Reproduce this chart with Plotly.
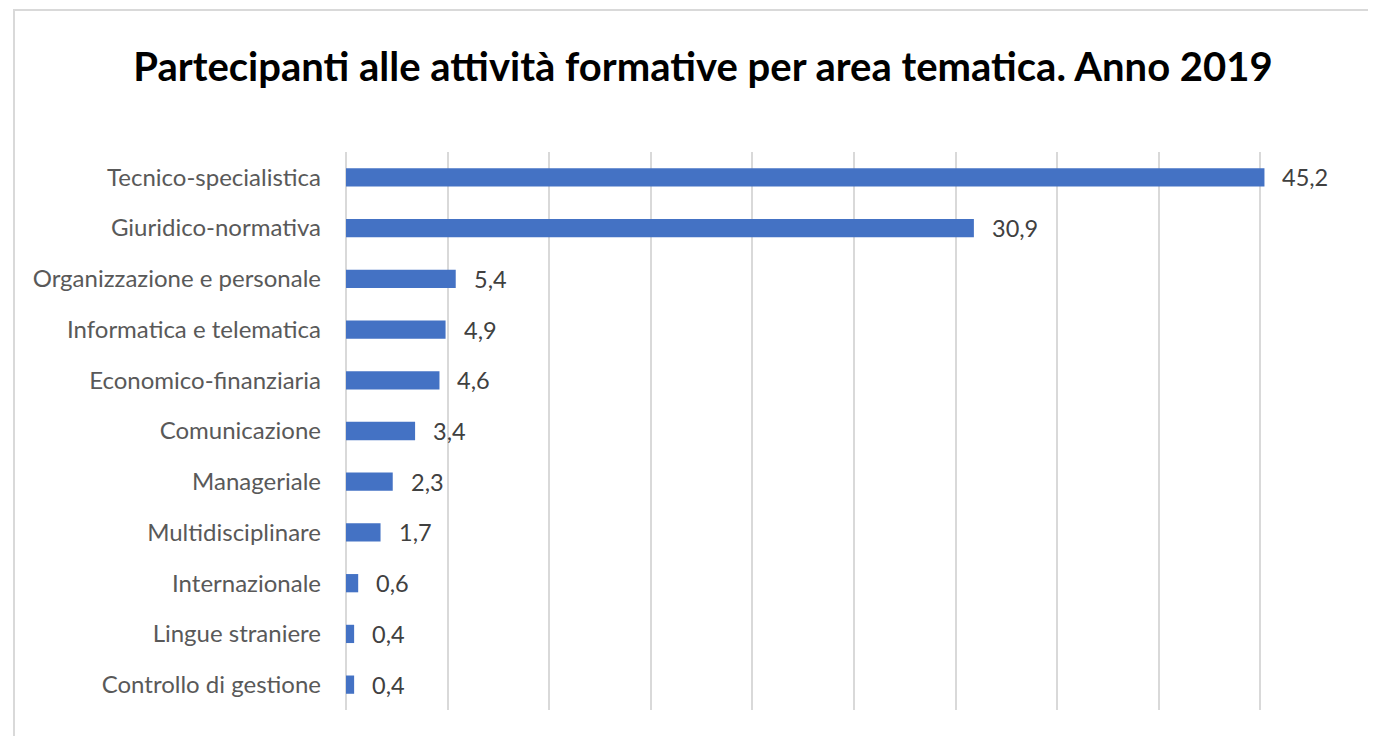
import plotly.graph_objects as go

categories = [
    "Tecnico-specialistica",
    "Giuridico-normativa",
    "Organizzazione e personale",
    "Informatica e telematica",
    "Economico-finanziaria",
    "Comunicazione",
    "Manageriale",
    "Multidisciplinare",
    "Internazionale",
    "Lingue straniere",
    "Controllo di gestione",
]
values = [45.2, 30.9, 5.4, 4.9, 4.6, 3.4, 2.3, 1.7, 0.6, 0.4, 0.4]

title_text = "Partecipanti alle attività formative per area tematica. Anno 2019"

W, H = 1368, 728
L, R, T, B = 338, 14, 144, 26
PW, PH = W - L - R, H - T - B

fig = go.Figure()
fig.add_trace(go.Bar(
    x=values,
    y=categories,
    orientation="h",
    marker=dict(color="#4472C4", line=dict(width=0)),
    width=0.36,
    hoverinfo="x+y",
))

for c, v in zip(categories, values):
    fig.add_annotation(
        x=v, y=c, xref="x", yref="y",
        text=f"{v:.1f}".replace(".", ","),
        showarrow=False, xanchor="left", xshift=16,
        font=dict(family="Lato", size=23.5, color="#404040"),
    )

fig.update_layout(
    width=W, height=H,
    margin=dict(l=L, r=R, t=T, b=B),
    paper_bgcolor="white",
    plot_bgcolor="white",
    showlegend=False,
    title=dict(
        text=title_text,
        x=695 / W, xanchor="center",
        y=1 - 59 / H, yanchor="middle",
        font=dict(family="Lato", size=40, color="black", weight="bold"),
    ),
    xaxis=dict(
        range=[0, 50], dtick=5, showticklabels=False,
        showgrid=True, gridcolor="#d9d9d9", gridwidth=1.5,
        zeroline=True, zerolinecolor="#d9d9d9", zerolinewidth=1.5,
        fixedrange=True,
    ),
    yaxis=dict(
        autorange="reversed",
        tickfont=dict(family="Lato", size=24, color="#595959"),
        ticklabelstandoff=24,
        showgrid=False, zeroline=False, showline=False,
    ),
    shapes=[dict(
        type="rect", xref="paper", yref="paper",
        x0=(6 - L) / PW, x1=(W + 20 - L) / PW,
        y0=-60 / PH, y1=1 + (T - 2) / PH,
        line=dict(color="#d9d9d9", width=2), fillcolor="rgba(0,0,0,0)",
        layer="below",
    )],
)

fig.write_html("out.html")
